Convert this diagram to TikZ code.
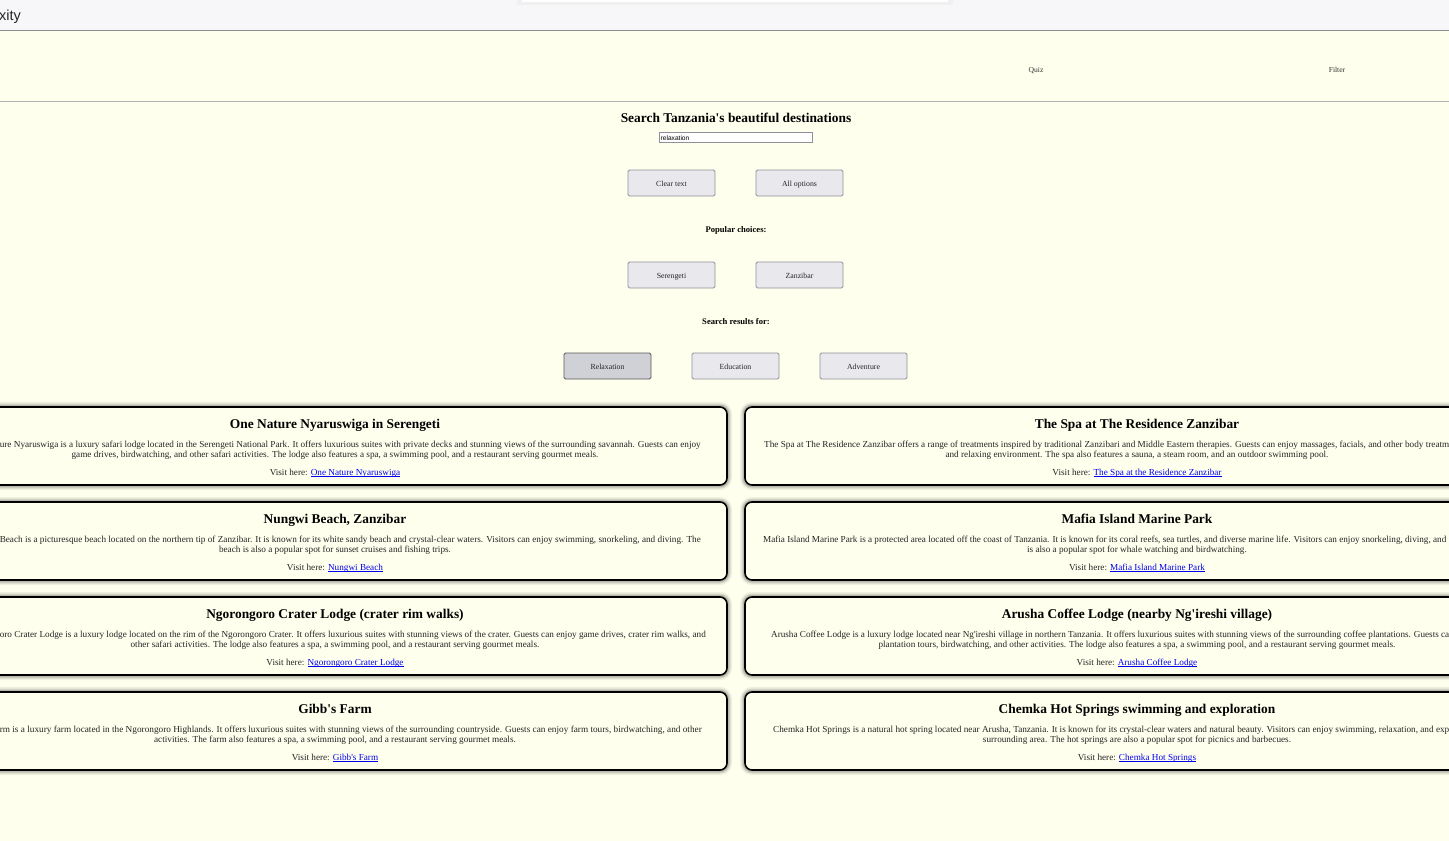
\documentclass[tikz,border=0pt]{standalone}
\usepackage{fontspec}
\usepackage{graphicx}
\setmainfont{Liberation Serif}[Ligatures=TeXOff]
\newfontfamily\uisans{Liberation Sans}
\definecolor{bg}{HTML}{FFFFEE}
\definecolor{topbar}{HTML}{F7F7F9}
\definecolor{btnfill}{HTML}{E9E9ED}
\definecolor{btnsel}{HTML}{D0D0D7}
\definecolor{btnborder}{HTML}{8F8F9D}
\definecolor{bodytext}{HTML}{242424}
\definecolor{linkblue}{HTML}{0000EE}
\newcommand{\lnk}[1]{\textcolor{linkblue}{\setbox0\hbox{#1}\rlap{\rule[-1.4pt]{\wd0}{0.75pt}}\box0}}
\newcommand{\fitline}[2]{\resizebox{#1}{\height}{#2}}
\tikzset{
  card/.style={rectangle, draw=black, line width=1.6pt, rounded corners=7pt, fill=bg,
    minimum width=784pt, minimum height=78pt, inner sep=0pt,
    preaction={draw=black, opacity=0.06, line width=10pt},
    preaction={draw=black, opacity=0.10, line width=7pt},
    preaction={draw=black, opacity=0.14, line width=4.5pt}},
  ctitle/.style={inner sep=0pt, text height=12.4pt, text depth=2.8pt, font=\fontsize{13.4}{15}\selectfont\bfseries},
  cbody/.style={inner sep=0pt, text height=8.4pt, text depth=1.8pt, text=bodytext, font=\fontsize{9.2}{11}\selectfont},
  btnbox/.style={rectangle, draw=btnborder, line width=0.9pt, fill=btnfill, rounded corners=1.5pt,
    minimum width=87pt, minimum height=26pt, inner sep=0pt, text=black!85,
    text height=9.4pt, text depth=1.6pt, font=\fontsize{7.8}{9}\selectfont},
  lbl/.style={inner sep=0pt, text height=8.4pt, text depth=1.8pt, font=\fontsize{8.6}{10}\selectfont\bfseries},
  navtxt/.style={inner sep=0pt, text=black!80, text height=9.4pt, text depth=1.6pt, font=\fontsize{7.6}{9}\selectfont},
}
\begin{document}
\begin{tikzpicture}[x=1pt,y=-1pt]
\useasboundingbox (0,0) rectangle (1449,841);
\clip (0,0) rectangle (1449,841);
% backgrounds
\fill[bg] (0,0) rectangle (1449,841);
\fill[topbar] (0,0) rectangle (1449,30);
\fill[black!12] (519,0) rectangle (951,3);
\fill[black!6] (517,0) rectangle (953,4.5);
\fill[white] (522,0) rectangle (948,1.5);
\draw[black!45, line width=1.2pt] (0,30.5) -- (1449,30.5);
\draw[black!30, line width=1.2pt] (0,101.5) -- (1449,101.5);
\node[anchor=west, inner sep=0pt, text=black!85, text height=14pt, text depth=3pt, font=\uisans\fontsize{14.5}{16}\selectfont] (brand) at (-1,15) {xity};
% nav
\node[navtxt] (quiz) at (1036,69) {Quiz};
\node[navtxt] (filter) at (1337,69) {Filter};
% search area
\node[inner sep=0pt, text height=13pt, text depth=2.8pt, font=\fontsize{13.4}{15}\selectfont\bfseries] (heading) at (736,117) {Search Tanzania's beautiful destinations};
\node[rectangle, draw=btnborder, line width=0.9pt, fill=white, minimum width=153pt, minimum height=10pt, inner sep=0pt] (input) at (736,137) {};
\node[anchor=west, inner sep=0pt, text height=6.4pt, text depth=1.4pt, font=\uisans\fontsize{6.6}{7}\selectfont] (inputtext) at (660.5,137.5) {relaxation};
\node[btnbox] (clear) at (671.5,183) {Clear text};
\node[btnbox] (allopt) at (799.5,183) {All options};
\node[lbl] (popular) at (736,229) {Popular choices:};
\node[btnbox] (serengeti) at (671.5,275) {Serengeti};
\node[btnbox] (zanzibar) at (799.5,275) {Zanzibar};
\node[lbl] (results) at (736,321) {Search results for:};
\node[btnbox, fill=btnsel, draw=black!65] (relax) at (607.5,366) {Relaxation};
\node[btnbox] (edu) at (735.5,366) {Education};
\node[btnbox] (adv) at (863.5,366) {Adventure};
% ---------- left cards ----------
\node[card] (c1) at (335,446) {};
\node[ctitle] (c1t) at (335,424) {One Nature Nyaruswiga in Serengeti};
\node[cbody, anchor=east] (c1a) at (701,444) {\fitline{701pt}{ure Nyaruswiga is a luxury safari lodge located in the Serengeti National Park. It offers luxurious suites with private decks and stunning views of the surrounding savannah. Guests can enjoy}};
\node[cbody] (c1b) at (335,454) {game drives, birdwatching, and other safari activities. The lodge also features a spa, a swimming pool, and a restaurant serving gourmet meals.};
\node[cbody] (c1v) at (335,472) {Visit here: \lnk{One Nature Nyaruswiga}};

\node[card] (c2) at (335,541) {};
\node[ctitle] (c2t) at (335,519) {Nungwi Beach, Zanzibar};
\node[cbody, anchor=east] (c2a) at (701,539) {\fitline{701pt}{Beach is a picturesque beach located on the northern tip of Zanzibar. It is known for its white sandy beach and crystal-clear waters. Visitors can enjoy swimming, snorkeling, and diving. The}};
\node[cbody] (c2b) at (335,549) {beach is also a popular spot for sunset cruises and fishing trips.};
\node[cbody] (c2v) at (335,567) {Visit here: \lnk{Nungwi Beach}};

\node[card] (c3) at (335,636) {};
\node[ctitle] (c3t) at (335,614) {Ngorongoro Crater Lodge (crater rim walks)};
\node[cbody, anchor=east] (c3a) at (706,634) {\fitline{706pt}{oro Crater Lodge is a luxury lodge located on the rim of the Ngorongoro Crater. It offers luxurious suites with stunning views of the crater. Guests can enjoy game drives, crater rim walks, and}};
\node[cbody] (c3b) at (335,644) {other safari activities. The lodge also features a spa, a swimming pool, and a restaurant serving gourmet meals.};
\node[cbody] (c3v) at (335,662) {Visit here: \lnk{Ngorongoro Crater Lodge}};

\node[card] (c4) at (335,731) {};
\node[ctitle] (c4t) at (335,709) {Gibb's Farm};
\node[cbody, anchor=east] (c4a) at (702,729) {\fitline{702pt}{rm is a luxury farm located in the Ngorongoro Highlands. It offers luxurious suites with stunning views of the surrounding countryside. Guests can enjoy farm tours, birdwatching, and other}};
\node[cbody] (c4b) at (335,739) {activities. The farm also features a spa, a swimming pool, and a restaurant serving gourmet meals.};
\node[cbody] (c4v) at (335,757) {Visit here: \lnk{Gibb's Farm}};
% ---------- right cards ----------
\node[card] (d1) at (1137,446) {};
\node[ctitle] (d1t) at (1137,424) {The Spa at The Residence Zanzibar};
\node[cbody, anchor=west] (d1a) at (764,444) {\fitline{685pt}{The Spa at The Residence Zanzibar offers a range of treatments inspired by traditional Zanzibari and Middle Eastern therapies. Guests can enjoy massages, facials, and other body treatm}};
\node[cbody] (d1b) at (1137,454) {and relaxing environment. The spa also features a sauna, a steam room, and an outdoor swimming pool.};
\node[cbody] (d1v) at (1137,472) {Visit here: \lnk{The Spa at the Residence Zanzibar}};

\node[card] (d2) at (1137,541) {};
\node[ctitle] (d2t) at (1137,519) {Mafia Island Marine Park};
\node[cbody, anchor=west] (d2a) at (763,539) {\fitline{683pt}{Mafia Island Marine Park is a protected area located off the coast of Tanzania. It is known for its coral reefs, sea turtles, and diverse marine life. Visitors can enjoy snorkeling, diving, and}};
\node[cbody] (d2b) at (1137,549) {is also a popular spot for whale watching and birdwatching.};
\node[cbody] (d2v) at (1137,567) {Visit here: \lnk{Mafia Island Marine Park}};

\node[card] (d3) at (1137,636) {};
\node[ctitle] (d3t) at (1137,614) {Arusha Coffee Lodge (nearby Ng'ireshi village)};
\node[cbody, anchor=west] (d3a) at (771,634) {\fitline{678pt}{Arusha Coffee Lodge is a luxury lodge located near Ng'ireshi village in northern Tanzania. It offers luxurious suites with stunning views of the surrounding coffee plantations. Guests ca}};
\node[cbody] (d3b) at (1137,644) {plantation tours, birdwatching, and other activities. The lodge also features a spa, a swimming pool, and a restaurant serving gourmet meals.};
\node[cbody] (d3v) at (1137,662) {Visit here: \lnk{Arusha Coffee Lodge}};

\node[card] (d4) at (1137,731) {};
\node[ctitle] (d4t) at (1137,709) {Chemka Hot Springs swimming and exploration};
\node[cbody, anchor=west] (d4a) at (773,729) {\fitline{676pt}{Chemka Hot Springs is a natural hot spring located near Arusha, Tanzania. It is known for its crystal-clear waters and natural beauty. Visitors can enjoy swimming, relaxation, and exp}};
\node[cbody] (d4b) at (1137,739) {surrounding area. The hot springs are also a popular spot for picnics and barbecues.};
\node[cbody] (d4v) at (1137,757) {Visit here: \lnk{Chemka Hot Springs}};
\end{tikzpicture}
\end{document}
